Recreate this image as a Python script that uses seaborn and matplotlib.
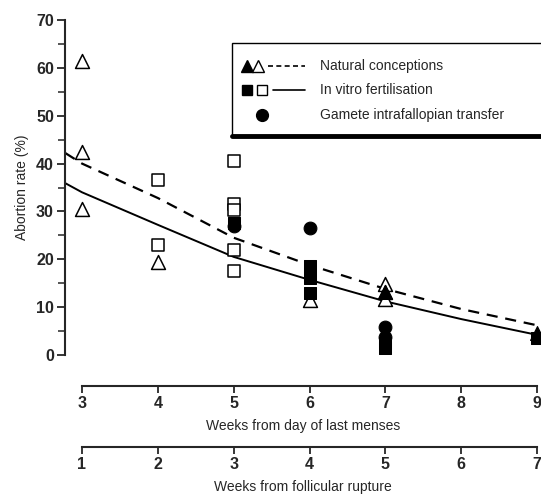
import matplotlib
matplotlib.use('Agg')
import matplotlib.pyplot as plt
import seaborn as sns
import pandas as pd
from matplotlib.patches import Rectangle
from matplotlib.lines import Line2D

# Natural conceptions (open / filled triangles)
nat_open_x = [3, 3, 3, 4, 6, 7, 7, 7]
nat_open_y = [61.5, 42.5, 30.5, 19.5, 11.5, 14.8, 13.2, 11.8]
nat_filled_x = [7, 9]
nat_filled_y = [13.2, 4.5]

# In vitro fertilisation (open / filled squares)
ivf_open_x = [4, 4, 5, 5, 5, 5, 5]
ivf_open_y = [36.5, 23.0, 40.5, 31.5, 30.3, 22.0, 17.5]
ivf_filled_x = [5, 6, 6, 6, 7, 7, 9]
ivf_filled_y = [27.5, 18.5, 16.0, 13.0, 2.5, 1.5, 3.5]

# Gamete intrafallopian transfer (filled circles)
gift_x = [5, 6, 7, 7]
gift_y = [27.0, 26.5, 5.8, 3.8]

# fitted curves
curve_x = [2.78, 3, 4, 5, 6, 7, 8, 9]
nat_curve = [42.2, 40.0, 32.8, 24.5, 18.8, 13.8, 9.6, 6.2]
ivf_curve = [35.9, 34.0, 27.2, 20.5, 15.7, 11.2, 7.5, 4.2]

menses_ticks = [3, 4, 5, 6, 7, 8, 9]
rupture_ticks = [1, 2, 3, 4, 5, 6, 7]

sns.set_style('ticks')
plt.rcParams['font.family'] = ['Liberation Sans', 'DejaVu Sans']

fig = plt.figure(figsize=(5.41, 4.95), dpi=100)
W, H = 541, 495
ax = fig.add_axes([65 / W, 140 / H, 476 / W, 335 / H])

xmin, xmax = 2.776, 9.05
curves = pd.DataFrame({'x': curve_x, 'nat': nat_curve, 'ivf': ivf_curve})
sns.lineplot(data=curves, x='x', y='nat', ax=ax, color='black', lw=1.6,
             linestyle=(0, (5, 3.5)), clip_on=False)
sns.lineplot(data=curves, x='x', y='ivf', ax=ax, color='black', lw=1.4,
             clip_on=False)

ms = 85
sns.scatterplot(x=nat_open_x, y=nat_open_y, ax=ax, marker='^', s=ms + 15,
                facecolor='white', edgecolor='black', linewidth=1.1, zorder=3, clip_on=False)
sns.scatterplot(x=nat_filled_x, y=nat_filled_y, ax=ax, marker='^', s=ms + 15,
                color='black', edgecolor='black', zorder=4, clip_on=False)
sns.scatterplot(x=ivf_open_x, y=ivf_open_y, ax=ax, marker='s', s=ms,
                facecolor='white', edgecolor='black', linewidth=1.1, zorder=3, clip_on=False)
sns.scatterplot(x=ivf_filled_x, y=ivf_filled_y, ax=ax, marker='s', s=ms,
                color='black', edgecolor='black', zorder=4, clip_on=False)
sns.scatterplot(x=gift_x, y=gift_y, ax=ax, marker='o', s=ms,
                color='black', edgecolor='black', zorder=4, clip_on=False)

ax.set_xlim(xmin, xmax)
ax.set_ylim(0, 70)
ax.set_xticks([])
ax.set_xlabel('')
ax.set_yticks(range(0, 71, 10))
ax.set_yticks(range(5, 70, 10), minor=True)
for s in ['top', 'right', 'bottom']:
    ax.spines[s].set_visible(False)
ax.spines['left'].set_linewidth(1.5)
ax.tick_params(axis='y', which='major', direction='out', length=6, width=1.3,
               labelsize=11.5, pad=2, left=True)
ax.tick_params(axis='y', which='minor', direction='out', length=5, width=1.1, left=True)
for t in ax.get_yticklabels():
    t.set_fontweight('bold')
ax.set_ylabel('Abortion rate (%)', fontsize=10, labelpad=5)

# legend box drawn by hand
tr = ax.transAxes
ax.add_patch(Rectangle((0.351, 0.654), 0.70, 0.277, transform=tr, fill=False,
                       edgecolor='black', lw=1.0, clip_on=False, zorder=5))
ax.add_line(Line2D([0.351, 1.05], [0.654, 0.654], transform=tr, color='black',
                   lw=3.5, clip_on=False, zorder=5))
rows = [0.863, 0.791, 0.716]
ax.add_line(Line2D([0.382], [rows[0]], transform=tr, marker='^', ms=8, color='black',
                   ls='none', clip_on=False))
ax.add_line(Line2D([0.405], [rows[0]], transform=tr, marker='^', ms=8, mfc='white',
                   mec='black', ls='none', clip_on=False))
ax.add_line(Line2D([0.426, 0.504], [rows[0]] * 2, transform=tr, color='black', lw=1.2,
                   ls=(0, (3, 2)), clip_on=False))
ax.add_line(Line2D([0.382], [rows[1]], transform=tr, marker='s', ms=7.5, color='black',
                   ls='none', clip_on=False))
ax.add_line(Line2D([0.414], [rows[1]], transform=tr, marker='s', ms=7.5, mfc='white',
                   mec='black', ls='none', clip_on=False))
ax.add_line(Line2D([0.436, 0.504], [rows[1]] * 2, transform=tr, color='black', lw=1.2,
                   clip_on=False))
ax.add_line(Line2D([0.414], [rows[2]], transform=tr, marker='o', ms=8.5, color='black',
                   ls='none', clip_on=False))
labels = ['Natural conceptions', 'In vitro fertilisation', 'Gamete intrafallopian transfer']
for r, lab in zip(rows, labels):
    ax.text(0.536, r, lab, transform=tr, fontsize=10, va='center', ha='left')

# two x axes below
def bottom_axis(ypix, lo, hi, ticks, label):
    a = fig.add_axes([65 / W, (H - ypix) / H, 476 / W, 0.0001])
    a.set_xlim(lo, hi)
    a.set_yticks([])
    for s in ['top', 'right', 'left']:
        a.spines[s].set_visible(False)
    a.spines['bottom'].set_bounds(ticks[0], ticks[-1])
    a.spines['bottom'].set_linewidth(1.5)
    a.set_xticks(ticks)
    a.set_xticklabels([str(t) for t in ticks], fontweight='bold')
    a.tick_params(axis='x', direction='out', length=5, width=1.3, labelsize=11.5,
                  pad=2, bottom=True)
    a.set_xlabel(label, fontsize=10, labelpad=6)
    a.patch.set_visible(False)
    return a

bottom_axis(386, xmin, xmax, menses_ticks, 'Weeks from day of last menses')
bottom_axis(447, xmin - 2, xmax - 2, rupture_ticks, 'Weeks from follicular rupture')

fig.savefig('out.png', dpi=100)
